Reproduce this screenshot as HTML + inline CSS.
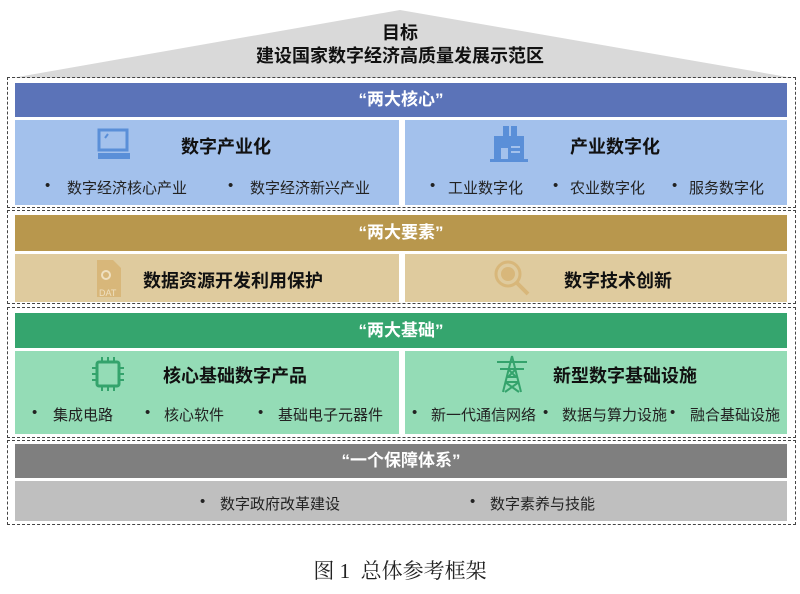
<!DOCTYPE html>
<html><head><meta charset="utf-8">
<style>
*{margin:0;padding:0;box-sizing:border-box}
body{width:800px;height:594px;background:#fff;position:relative;overflow:hidden;font-family:"Liberation Sans","Noto Sans CJK SC",sans-serif}
.a{position:absolute}
.dash{position:absolute;border:1px dashed #444}
.hdr{position:absolute;left:15px;width:772px;color:#fff;font-weight:bold;font-size:17px;text-align:center}
.pan{position:absolute}
.t{position:absolute;font-weight:bold;font-size:18px;color:#111;white-space:nowrap}
.b{position:absolute;font-size:15px;color:#222;white-space:nowrap}
</style></head><body>
<svg class="a" style="left:0;top:0" width="800" height="80"><polygon points="12,78 400,10 793,78" fill="#d9d9d9"/></svg>
<div class="a" style="left:0;width:800px;top:22px;text-align:center;font-weight:bold;font-size:18px;line-height:23px;color:#111">目标<br>建设国家数字经济高质量发展示范区</div>

<div class="dash" style="left:7px;top:77px;width:789px;height:131px"></div>
<div class="hdr" style="top:83px;height:34px;line-height:34px;background:#5b73b8">“两大核心”</div>
<div class="pan" style="left:15px;top:120px;width:384px;height:85px;background:#a3c1ec"></div>
<div class="pan" style="left:405px;top:120px;width:382px;height:85px;background:#a3c1ec"></div>
<svg class="a" style="left:96px;top:128px" width="36" height="34"><rect x="3" y="2" width="28" height="20" fill="none" stroke="#5a8fd8" stroke-width="3"/><rect x="2" y="25" width="32" height="6" fill="#5a8fd8"/><line x1="9" y1="10" x2="12" y2="6" stroke="#5a8fd8" stroke-width="2"/></svg>
<div class="t" style="left:181px;top:133px">数字产业化</div>
<div class="b" style="left:45px;top:177px">•</div><div class="b" style="left:67px;top:177px">数字经济核心产业</div>
<div class="b" style="left:228px;top:177px">•</div><div class="b" style="left:250px;top:177px">数字经济新兴产业</div>
<svg class="a" style="left:489px;top:124px" width="40" height="40"><rect x="14" y="2" width="6" height="10" fill="#5a8fd8"/><rect x="22" y="2" width="6" height="10" fill="#5a8fd8"/><rect x="5" y="12" width="30" height="24" fill="#5a8fd8"/><rect x="1" y="35" width="38" height="3" fill="#5a8fd8"/><rect x="12" y="24" width="7" height="11" fill="#a3c1ec"/><rect x="22" y="22" width="9" height="2" fill="#a3c1ec"/><rect x="22" y="27" width="9" height="2" fill="#a3c1ec"/></svg>
<div class="t" style="left:570px;top:133px">产业数字化</div>
<div class="b" style="left:430px;top:177px">•</div><div class="b" style="left:448px;top:177px">工业数字化</div>
<div class="b" style="left:553px;top:177px">•</div><div class="b" style="left:570px;top:177px">农业数字化</div>
<div class="b" style="left:672px;top:177px">•</div><div class="b" style="left:689px;top:177px">服务数字化</div>

<div class="dash" style="left:7px;top:210px;width:789px;height:94px"></div>
<div class="hdr" style="top:215px;height:36px;line-height:36px;background:#b8974d">“两大要素”</div>
<div class="pan" style="left:15px;top:254px;width:384px;height:48px;background:#dfcb9e"></div>
<div class="pan" style="left:405px;top:254px;width:382px;height:48px;background:#dfcb9e"></div>
<svg class="a" style="left:95px;top:258px" width="28" height="40"><path d="M2 2h16l8 8v20H2z" fill="#d8b77a"/><rect x="2" y="29" width="24" height="10" fill="#d8b77a"/><text x="4" y="38" font-size="9" fill="#efe0c0" font-family="Liberation Sans">DAT</text><circle cx="11" cy="17" r="4" fill="none" stroke="#efe0c0" stroke-width="2"/></svg>
<div class="t" style="left:143px;top:267px">数据资源开发利用保护</div>
<svg class="a" style="left:492px;top:258px" width="40" height="40"><circle cx="16" cy="16" r="12" fill="none" stroke="#d8b77a" stroke-width="3"/><circle cx="16" cy="16" r="7" fill="#d8b77a"/><line x1="25" y1="25" x2="36" y2="36" stroke="#d8b77a" stroke-width="4"/></svg>
<div class="t" style="left:564px;top:267px">数字技术创新</div>

<div class="dash" style="left:7px;top:307px;width:789px;height:131px"></div>
<div class="hdr" style="top:313px;height:35px;line-height:35px;background:#35a56e">“两大基础”</div>
<div class="pan" style="left:15px;top:351px;width:384px;height:83px;background:#94dcb6"></div>
<div class="pan" style="left:405px;top:351px;width:382px;height:83px;background:#94dcb6"></div>
<svg class="a" style="left:90px;top:357px" width="36" height="34"><rect x="7" y="5" width="22" height="24" rx="2" fill="none" stroke="#34a36c" stroke-width="3"/><g stroke="#34a36c" stroke-width="2"><line x1="12" y1="0" x2="12" y2="5"/><line x1="18" y1="0" x2="18" y2="5"/><line x1="24" y1="0" x2="24" y2="5"/><line x1="12" y1="29" x2="12" y2="34"/><line x1="18" y1="29" x2="18" y2="34"/><line x1="24" y1="29" x2="24" y2="34"/><line x1="2" y1="11" x2="7" y2="11"/><line x1="2" y1="17" x2="7" y2="17"/><line x1="2" y1="23" x2="7" y2="23"/><line x1="29" y1="11" x2="34" y2="11"/><line x1="29" y1="23" x2="34" y2="23"/><line x1="29" y1="17" x2="34" y2="17"/></g></svg>
<div class="t" style="left:163px;top:362px">核心基础数字产品</div>
<svg class="a" style="left:495px;top:355px" width="34" height="38"><g stroke="#34a36c" stroke-width="2" fill="none"><path d="M17 1 L8 37 M17 1 L26 37"/><path d="M2 7h30M5 14h24M11 22h12M10 27h14"/><path d="M13 14l8 8M21 14l-8 8M10 27l14 10M24 27l-14 10"/></g></svg>
<div class="t" style="left:553px;top:362px">新型数字基础设施</div>
<div class="b" style="left:32px;top:404px">•</div><div class="b" style="left:53px;top:404px">集成电路</div>
<div class="b" style="left:145px;top:404px">•</div><div class="b" style="left:164px;top:404px">核心软件</div>
<div class="b" style="left:258px;top:404px">•</div><div class="b" style="left:278px;top:404px">基础电子元器件</div>
<div class="b" style="left:412px;top:404px">•</div><div class="b" style="left:431px;top:404px">新一代通信网络</div>
<div class="b" style="left:543px;top:404px">•</div><div class="b" style="left:562px;top:404px">数据与算力设施</div>
<div class="b" style="left:670px;top:404px">•</div><div class="b" style="left:690px;top:404px">融合基础设施</div>

<div class="dash" style="left:7px;top:440px;width:789px;height:85px"></div>
<div class="hdr" style="top:444px;height:34px;line-height:34px;background:#7f7f7f">“一个保障体系”</div>
<div class="pan" style="left:15px;top:481px;width:772px;height:40px;background:#bfbfbf"></div>
<div class="b" style="left:200px;top:493px">•</div><div class="b" style="left:220px;top:493px">数字政府改革建设</div>
<div class="b" style="left:470px;top:493px">•</div><div class="b" style="left:490px;top:493px">数字素养与技能</div>

<div class="a" style="left:0;width:800px;top:555px;text-align:center;font-family:'Liberation Serif','Noto Serif CJK SC',serif;font-size:21px;color:#222">图 1&nbsp;&nbsp;总体参考框架</div>
</body></html>
